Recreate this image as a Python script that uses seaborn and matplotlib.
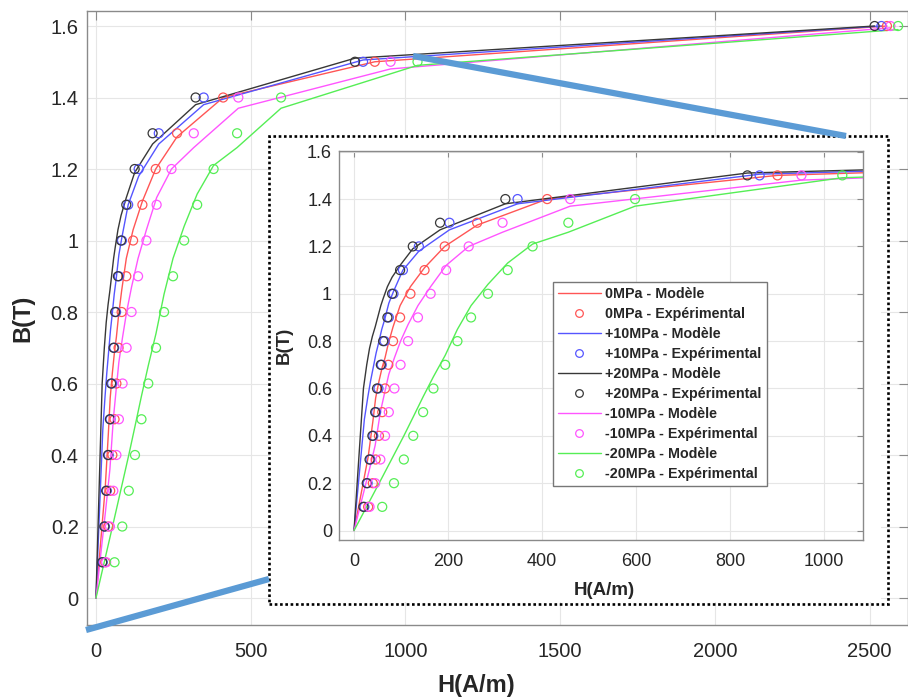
import matplotlib
matplotlib.use('Agg')
import matplotlib.pyplot as plt
import pandas as pd
import seaborn as sns
from matplotlib.lines import Line2D
from matplotlib.patches import Rectangle
from matplotlib.ticker import FormatStrFormatter, MultipleLocator

# stress levels (legend order)
series = ['0MPa', '+10MPa', '+20MPa', '-10MPa', '-20MPa']
colors = ['#ff5555', '#5555ff', '#383838', '#ff55ff', '#55ee55']

# experimental points: B levels and measured H for each stress
B_exp = [0.1, 0.2, 0.3, 0.4, 0.5, 0.6, 0.7, 0.8, 0.9, 1.0, 1.1, 1.2, 1.3, 1.4, 1.5, 1.6]
H_exp_0 = [30, 40, 46, 53, 60, 66, 73, 83, 98, 120, 150, 193, 262, 411, 901, 2556]
H_exp_p10 = [22, 29, 35, 41, 47, 52, 59, 65, 74, 84, 104, 138, 203, 348, 863, 2538]
H_exp_p20 = [20, 27, 33, 39, 45, 49, 57, 62, 71, 81, 98, 125, 183, 322, 837, 2516]
H_exp_m10 = [33, 45, 56, 66, 74, 86, 99, 115, 136, 163, 196, 244, 316, 460, 952, 2567]
H_exp_m20 = [60, 85, 106, 126, 147, 169, 194, 220, 249, 285, 327, 380, 456, 598, 1039, 2592]

# model B computed at H = 0 and at each experimental H
B_mod_0 = [0, 0.31, 0.46, 0.56, 0.63, 0.69, 0.73, 0.79, 0.86, 0.95, 1.03, 1.11, 1.2, 1.29, 1.4, 1.5, 1.6]
B_mod_p10 = [0, 0.47, 0.56, 0.63, 0.69, 0.75, 0.79, 0.85, 0.89, 0.96, 1.01, 1.1, 1.18, 1.27, 1.38, 1.505, 1.6]
B_mod_p20 = [0, 0.6, 0.7, 0.77, 0.82, 0.86, 0.89, 0.95, 0.98, 1.03, 1.07, 1.12, 1.19, 1.27, 1.38, 1.51, 1.6]
B_mod_m10 = [0, 0.26, 0.36, 0.5, 0.59, 0.66, 0.73, 0.8, 0.87, 0.95, 1.03, 1.12, 1.2, 1.26, 1.37, 1.48, 1.595]
B_mod_m20 = [0, 0.225, 0.32, 0.4, 0.48, 0.565, 0.65, 0.74, 0.85, 0.95, 1.04, 1.13, 1.21, 1.26, 1.37, 1.49, 1.59]

H_exp = [H_exp_0, H_exp_p10, H_exp_p20, H_exp_m10, H_exp_m20]
B_mod = [B_mod_0, B_mod_p10, B_mod_p20, B_mod_m10, B_mod_m20]

exp_rows, mod_rows = [], []
for s, hs, bm in zip(series, H_exp, B_mod):
    for h, b in zip(hs, B_exp):
        exp_rows.append({'serie': s, 'H': h, 'B': b})
    for h, b in zip([0] + hs, bm):
        mod_rows.append({'serie': s, 'H': h, 'B': b})
df_exp = pd.DataFrame(exp_rows)
df_mod = pd.DataFrame(mod_rows)
palette = dict(zip(series, colors))

sns.set_theme(style='white')
plt.rcParams['font.family'] = ['Liberation Sans', 'DejaVu Sans']

W, H = 908, 700
fig = plt.figure(figsize=(W / 100, H / 100), dpi=100)


def fx(px):
    return px / W


def fy(py):
    return 1 - py / H


def draw(ax):
    sns.lineplot(data=df_mod, x='H', y='B', hue='serie', hue_order=series, palette=palette,
                 estimator=None, sort=False, legend=False, linewidth=1.0, ax=ax)
    for s, c in zip(series, colors):
        sns.scatterplot(data=df_exp[df_exp['serie'] == s], x='H', y='B', marker='o', s=42,
                        color=c, facecolor='none', edgecolor=c, linewidth=0.9,
                        legend=False, ax=ax, zorder=3)


def style(ax, fs, tick_len, xpad, ypad):
    ax.grid(True, color='#e6e6e6', linewidth=0.8)
    ax.set_axisbelow(True)
    for sp in ax.spines.values():
        sp.set_color('#8a8a8a')
        sp.set_linewidth(1.0)
    ax.tick_params(direction='in', top=True, right=True, length=tick_len, width=0.8,
                   color='#8a8a8a', labelsize=fs, labelcolor='#262626')
    ax.tick_params(axis='x', pad=xpad)
    ax.tick_params(axis='y', pad=ypad)
    ax.yaxis.set_major_formatter(FormatStrFormatter('%g'))
    ax.xaxis.set_major_formatter(FormatStrFormatter('%g'))


# main axes
ax = fig.add_axes([fx(87), fy(625), fx(908) - fx(87), fy(11) - fy(625)])
draw(ax)
ax.set_xlim(-29, 2624)
ax.set_ylim(-0.0755, 1.642)
ax.xaxis.set_major_locator(MultipleLocator(500))
ax.yaxis.set_major_locator(MultipleLocator(0.2))
style(ax, 14.5, 6.5, 12, 6)
ax.set_xlabel('H(A/m)', fontsize=17, fontweight='bold', color='#262626')
ax.set_ylabel('B(T)', fontsize=17, fontweight='bold', color='#262626')
ax.xaxis.set_label_coords(0.474, -0.08)
ax.yaxis.set_label_coords(-0.064, 0.5)

# white backing and dotted frame of the zoom
fig.add_artist(Rectangle((fx(270), fy(602)), fx(881) - fx(270), fy(137) - fy(602),
                         transform=fig.transFigure, facecolor='white', edgecolor='none', zorder=1))
fig.add_artist(Rectangle((fx(269), fy(604)), fx(888) - fx(269), fy(136) - fy(604),
                         transform=fig.transFigure, facecolor='none', edgecolor='black',
                         linewidth=1.9, linestyle=(0, (1, 1)), zorder=2))

# inset axes
ax_in = fig.add_axes([fx(339), fy(540), fx(863) - fx(339), fy(151) - fy(540)], zorder=3)
draw(ax_in)
ax_in.set_xlim(-32, 1083)
ax_in.set_ylim(-0.04, 1.603)
ax_in.xaxis.set_major_locator(MultipleLocator(200))
ax_in.yaxis.set_major_locator(MultipleLocator(0.2))
style(ax_in, 13, 4.5, 9, 5)
ax_in.set_xlabel('H(A/m)', fontsize=13.5, fontweight='bold', color='#262626')
ax_in.set_ylabel('B(T)', fontsize=13.5, fontweight='bold', color='#262626')
ax_in.xaxis.set_label_coords(0.506, -0.108)
ax_in.yaxis.set_label_coords(-0.088, 0.5)

handles, labels = [], []
for s, c in zip(series, colors):
    handles.append(Line2D([0], [0], color=c, linewidth=1.0))
    labels.append(f'{s} - Modèle')
    handles.append(Line2D([0], [0], color=c, marker='o', linestyle='None',
                          markerfacecolor='none', markersize=5.5, markeredgewidth=0.9))
    labels.append(f'{s} - Expérimental')
leg = ax_in.legend(handles, labels, loc='upper left', bbox_to_anchor=(fx(553), fy(282)),
                   bbox_transform=fig.transFigure, prop={'weight': 'bold', 'size': 10.3},
                   frameon=True, fancybox=False, framealpha=1, edgecolor='#777777',
                   borderaxespad=0, labelspacing=0.42, handlelength=3.0,
                   handletextpad=0.3, borderpad=0.35)
leg.get_frame().set_linewidth(1.0)
for t in leg.get_texts():
    t.set_color('#262626')

# thick blue zoom connectors
fig.add_artist(Line2D([fx(86), fx(269)], [fy(630), fy(579)], transform=fig.transFigure,
                      color='#5b9bd5', linewidth=4.5, solid_capstyle='butt', zorder=4))
fig.add_artist(Line2D([fx(413), fx(846)], [fy(56), fy(136)], transform=fig.transFigure,
                      color='#5b9bd5', linewidth=4.5, solid_capstyle='butt', zorder=4))

fig.savefig('out.png', dpi=100)
